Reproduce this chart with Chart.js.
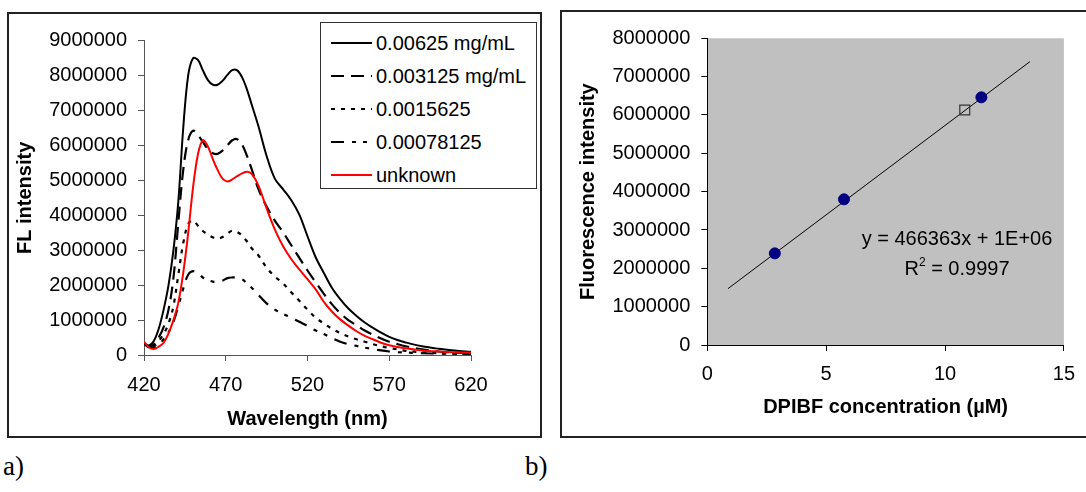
<!DOCTYPE html>
<html>
<head>
<meta charset="utf-8">
<script src="https://cdn.jsdelivr.net/npm/chart.js@4.4.1/dist/chart.umd.min.js"></script>
<style>
  body { margin: 0; background: #fff; width: 1086px; height: 492px; overflow: hidden; position: relative; font-family: "Liberation Sans", Arial, sans-serif; }
  .panel { position: absolute; box-sizing: border-box; border: 2px solid #222; }
  canvas { position: absolute; }
  #legend { position: absolute; left: 320px; top: 22px; width: 217px; height: 167px; box-sizing: border-box; border: 1px solid #333; background: #fff; }
  .row { position: absolute; left: 0; height: 24px; font-size: 20px; line-height: 24px; color: #000; white-space: nowrap; }
  .row svg { position: absolute; left: 10px; top: 2px; }
  .row span { position: absolute; left: 55px; top: 0; }
  .eq { position: absolute; left: 857px; top: 223px; width: 200px; text-align: center; font-size: 20px; line-height: 30px; color: #000; }
  .eq sup { font-size: 12px; vertical-align: 9px; line-height: 0; }
  .tag { position: absolute; font-family: "Liberation Serif", "Times New Roman", serif; font-size: 27px; color: #000; }
</style>
</head>
<body>
<div class="panel" style="left:7px;top:12px;width:535px;height:426px;"></div>
<div class="panel" style="left:560px;top:10px;width:600px;height:428px;"></div>
<canvas id="spectra" width="532" height="422" style="left:8px;top:14px;"></canvas>
<canvas id="calib" width="524" height="424" style="left:562px;top:12px;"></canvas>
<div id="legend"></div>
<div class="eq">y = 466363x + 1E+06<br>R<sup>2</sup> = 0.9997</div>
<div class="tag" style="left:3px;top:451px;">a)</div>
<div class="tag" style="left:525px;top:451px;">b)</div>
<script>
// panel a: emission spectra
const wavelengths = [420, 423, 426, 429, 432, 435, 438, 441, 444, 447, 450, 453, 456, 459, 462, 465,
  468, 471, 474, 477, 480, 483, 486, 490, 495, 500, 505, 510, 515, 520, 525, 530, 535, 540, 545,
  550, 555, 560, 565, 570, 575, 580, 590, 600, 610, 620];

const conc00625 = [330000, 270000, 400000, 750000, 1300000, 2000000, 3000000, 4400000, 6500000, 8000000,
  8500000, 8450000, 8150000, 7880000, 7740000, 7740000, 7850000, 8020000, 8160000, 8150000, 7950000,
  7600000, 7150000, 6550000, 5700000, 5050000, 4750000, 4440000, 4020000, 3400000, 2800000, 2350000,
  1920000, 1600000, 1330000, 1120000, 930000, 780000, 640000, 520000, 430000, 360000, 250000, 180000,
  130000, 90000];
const conc003125 = [330000, 240000, 300000, 500000, 800000, 1300000, 2200000, 3800000, 5300000, 6150000,
  6420000, 6300000, 6100000, 5900000, 5780000, 5760000, 5850000, 6000000, 6150000, 6180000, 6020000,
  5700000, 5300000, 4750000, 4250000, 3850000, 3520000, 3150000, 2780000, 2420000, 2080000, 1750000,
  1450000, 1200000, 1000000, 850000, 700000, 580000, 470000, 380000, 310000, 250000, 160000, 100000,
  70000, 50000];
const conc0015625 = [330000, 230000, 250000, 400000, 600000, 900000, 1400000, 2300000, 3200000, 3750000,
  3850000, 3700000, 3550000, 3450000, 3370000, 3330000, 3380000, 3480000, 3560000, 3520000, 3420000,
  3250000, 3050000, 2850000, 2500000, 2250000, 2050000, 1800000, 1550000, 1300000, 1070000, 900000,
  750000, 630000, 530000, 450000, 380000, 310000, 250000, 200000, 160000, 120000, 80000, 50000,
  40000, 30000];
const conc00078125 = [330000, 220000, 220000, 300000, 450000, 650000, 950000, 1400000, 1900000, 2300000,
  2400000, 2330000, 2220000, 2150000, 2100000, 2100000, 2130000, 2200000, 2220000, 2220000, 2170000,
  2050000, 1920000, 1720000, 1480000, 1300000, 1180000, 1070000, 950000, 830000, 700000, 600000,
  480000, 380000, 310000, 260000, 210000, 170000, 130000, 100000, 80000, 70000, 50000, 40000,
  30000, 20000];
const unknownSample = [380000, 220000, 170000, 240000, 350000, 620000, 1000000, 1500000, 2350000, 3480000,
  4800000, 5750000, 6150000, 5980000, 5620000, 5300000, 5050000, 4970000, 5030000, 5120000, 5200000,
  5250000, 5180000, 4850000, 4200000, 3600000, 3120000, 2750000, 2450000, 2170000, 1880000, 1520000,
  1240000, 1020000, 840000, 680000, 550000, 450000, 350000, 280000, 230000, 190000, 130000, 100000,
  80000, 70000];

const spectraLabels = ["0.00625 mg/mL", "0.003125 mg/mL", "0.0015625", "0.00078125", "unknown"];
const spectraTicksY = [0, 9000000, 1000000]; // min, max, step
const spectraTicksX = [420, 620, 50];

// panel b: calibration
const stdConc = [2.84, 5.75, 11.53];
const stdIntensity = [2390000, 3800000, 6460000];
const unknownConc = [10.83];
const unknownIntensity = [6130000];
const fitConc = [0.87, 13.57];
const fitIntensity = [1470000, 7390000];

Chart.defaults.font.family = '"Liberation Sans", Arial, sans-serif';
Chart.defaults.font.size = 20;
Chart.defaults.color = "#000";

const toXY = (xs, ys) => xs.map((x, i) => ({ x, y: ys[i] }));

const spectraStyles = [
  { borderColor: "#000", borderWidth: 2, borderDash: [] },
  { borderColor: "#000", borderWidth: 2.2, borderDash: [13, 7] },
  { borderColor: "#000", borderWidth: 2.2, borderDash: [4, 6] },
  { borderColor: "#000", borderWidth: 2.2, borderDash: [13, 8, 4, 7, 4, 8] },
  { borderColor: "#ff0000", borderWidth: 2, borderDash: [] },
];
const spectraSeries = [conc00625, conc003125, conc0015625, conc00078125, unknownSample];

function axisStyle(extra) {
  return Object.assign({
    grid: { drawOnChartArea: false, drawTicks: true, tickLength: 6, color: "#555" },
    border: { display: true, color: "#555", width: 1 },
  }, extra);
}

const spectraDatasets = spectraSeries.map((s, i) => ({
  label: spectraLabels[i],
  data: toXY(wavelengths, s),
  fill: false,
  pointRadius: 0,
  tension: 0.35,
  ...spectraStyles[i],
}));

new Chart(document.getElementById("spectra"), {
  type: "line",
  data: { datasets: spectraDatasets.slice().reverse() },
  options: {
    responsive: false,
    animation: false,
    layout: { padding: { top: 26.7, right: 69, left: 0, bottom: 0 } },
    plugins: { legend: { display: false }, tooltip: { enabled: false } },
    scales: {
      x: axisStyle({
        type: "linear",
        min: spectraTicksX[0], max: spectraTicksX[1],
        ticks: { stepSize: spectraTicksX[2], padding: 12, maxRotation: 0 },
        title: { display: true, text: "Wavelength (nm)", font: { weight: "bold", size: 20 }, padding: { top: 0, bottom: 5 } },
        afterFit: (s) => { s.height = 81; },
      }),
      y: axisStyle({
        min: spectraTicksY[0], max: spectraTicksY[1],
        ticks: { stepSize: spectraTicksY[2], padding: 11, callback: (v) => String(v) },
        title: { display: true, text: "FL intensity", font: { weight: "bold", size: 20 }, padding: { top: 5, bottom: 0 } },
        afterFit: (s) => { s.width = 136; },
      }),
    },
  },
});

// legend box for panel a, built from the dataset styles
const legendBox = document.getElementById("legend");
spectraDatasets.forEach((ds, i) => {
  const row = document.createElement("div");
  row.className = "row";
  row.style.top = (19.5 + i * 33 - 12) + "px";
  row.style.width = "215px";
  const dash = ds.borderDash.length ? ` stroke-dasharray="${ds.borderDash.join(" ")}"` : "";
  row.innerHTML = `<svg width="41" height="20"><line x1="0" y1="10" x2="41" y2="10" stroke="${ds.borderColor}" stroke-width="${ds.borderWidth}"${dash}/></svg><span>${ds.label}</span>`;
  legendBox.appendChild(row);
});

const plotBackground = {
  id: "plotBackground",
  beforeDraw(chart) {
    const { ctx, chartArea: a } = chart;
    ctx.save();
    ctx.fillStyle = "#c0c0c0";
    ctx.fillRect(a.left, a.top, a.right - a.left, a.bottom - a.top);
    ctx.restore();
  },
};

new Chart(document.getElementById("calib"), {
  type: "scatter",
  data: {
    datasets: [
      {
        label: "standards",
        data: toXY(stdConc, stdIntensity),
        pointRadius: 5.5,
        pointBackgroundColor: "#000080",
        pointBorderColor: "#000080",
        order: 0,
      },
      {
        label: "unknown",
        data: toXY(unknownConc, unknownIntensity),
        pointStyle: "rect",
        pointRadius: 7,
        pointBackgroundColor: "rgba(0,0,0,0)",
        pointBorderColor: "#333",
        pointBorderWidth: 1.2,
        order: 1,
      },
      {
        label: "linear fit",
        data: toXY(fitConc, fitIntensity),
        showLine: true,
        borderColor: "#000",
        borderWidth: 1,
        pointRadius: 0,
        order: 2,
      },
    ],
  },
  options: {
    responsive: false,
    animation: false,
    layout: { padding: { top: 26.3, right: 13.3, left: 0, bottom: 0 } },
    plugins: { legend: { display: false }, tooltip: { enabled: false } },
    scales: {
      x: axisStyle({
        type: "linear",
        min: 0, max: 15,
        ticks: { stepSize: 5, padding: 11, maxRotation: 0 },
        grid: { drawOnChartArea: false, tickLength: 6, color: "#000" },
        border: { display: true, color: "#000", width: 1 },
        title: { display: true, text: "DPIBF concentration (µM)", font: { weight: "bold", size: 20 }, padding: { top: 0, bottom: 17 } },
        afterFit: (s) => { s.height = 91; },
      }),
      y: axisStyle({
        min: 0, max: 8000000,
        ticks: { stepSize: 1000000, padding: 11, callback: (v) => String(v) },
        grid: { drawOnChartArea: false, tickLength: 6, color: "#000" },
        border: { display: true, color: "#000", width: 1 },
        title: { display: true, text: "Fluorescence intensity", font: { weight: "bold", size: 20 }, padding: { top: 14.4, bottom: 0 } },
        afterFit: (s) => { s.width = 145.3; },
      }),
    },
  },
  plugins: [plotBackground],
});
</script>
</body>
</html>
